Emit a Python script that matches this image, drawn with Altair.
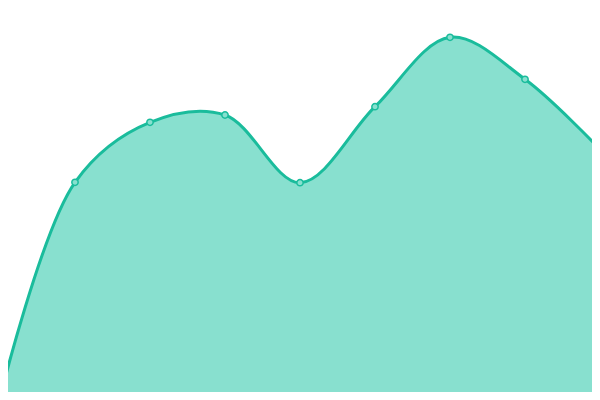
import altair as alt
import pandas as pd

idx = [0, 1, 2, 3, 4, 5, 6, 7, 8]
values = [2, 217.7, 277.7, 285, 217.3, 293.3, 362.7, 320.7, 250.7]

df = pd.DataFrame({"i": idx, "v": values})

x = alt.X("i:Q", scale=alt.Scale(domain=[8 / 75, 8 - 8 / 75], nice=False, zero=False), axis=None)
y = alt.Y("v:Q", scale=alt.Scale(domain=[8, 392], nice=False, zero=False), axis=None)

base = alt.Chart(df)
area = base.mark_area(interpolate="catmull-rom", color="#88e0cf", clip=True).encode(
    x=x, y=y, y2=alt.datum(0)
)
line = base.mark_line(interpolate="catmull-rom", color="#1abc9c", strokeWidth=3, clip=True).encode(x=x, y=y)
pts = base.mark_point(filled=True, fill="#88e0cf", stroke="#1abc9c", strokeWidth=1.5, size=40, opacity=1, clip=True).encode(x=x, y=y)

chart = (area + line + pts).properties(width=584, height=384, padding=0).configure_view(stroke=None)
chart.save("out.html", embed_options={"renderer": "svg", "actions": False})
